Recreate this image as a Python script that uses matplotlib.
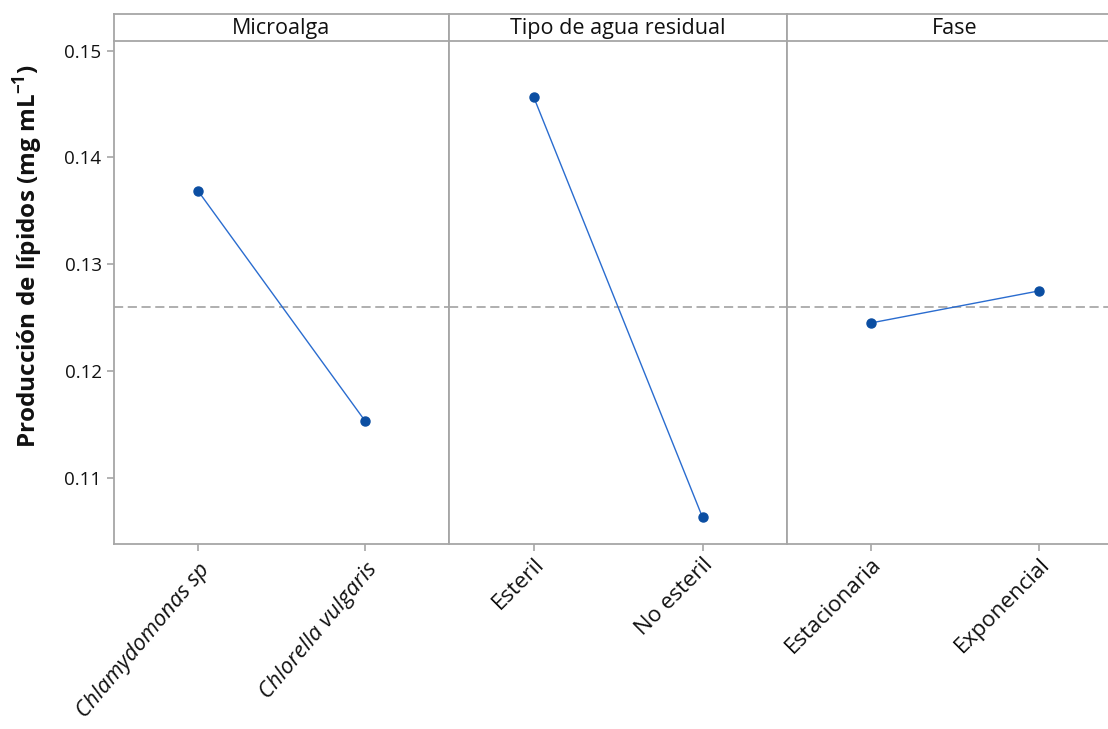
import matplotlib
matplotlib.use("Agg")
import matplotlib.pyplot as plt
from matplotlib.ticker import FixedLocator
from matplotlib.transforms import ScaledTranslation

plt.rcParams['font.family'] = ['Open Sans', 'DejaVu Sans']

# Main-effects data: factor panels, levels and mean lipid production
factors = ["Microalga", "Tipo de agua residual", "Fase"]
levels = [
    ["Chlamydomonas sp", "Chlorella vulgaris"],
    ["Esteril", "No esteril"],
    ["Estacionaria", "Exponencial"],
]
italic_levels = [True, False, False]
means = [
    [0.1369, 0.1153],
    [0.1457, 0.1063],
    [0.1245, 0.1275],
]
grand_mean = 0.1260

yticks = [0.11, 0.12, 0.13, 0.14, 0.15]
ylim = (0.1038, 0.1509)

W, H = 1108, 729
fig = plt.figure(figsize=(W / 100, H / 100), dpi=100)

frame_col = "#a6a6a6"
line_col = "#2a6ccf"
mark_col = "#0b4ea2"
text_col = "#111111"

panel_x = [114, 449, 787, 1123]
top_strip, top_data, bottom_data = 14, 41, 544

for i, (fac, lev, vals) in enumerate(zip(factors, levels, means)):
    x0, x1 = panel_x[i], panel_x[i + 1]
    ax = fig.add_axes([x0 / W, 1 - bottom_data / H, (x1 - x0) / W,
                       (bottom_data - top_data) / H])
    xs = list(range(len(vals)))
    ax.axhline(grand_mean, color="#9a9a9a", lw=1.1, ls=(0, (6, 3)), zorder=1)
    ax.plot(xs, vals, color=line_col, lw=1.0, zorder=2)
    ax.plot(xs, vals, 'o', color=mark_col, ms=6.5, zorder=3)
    ax.set_xlim(-0.5, 1.5)
    ax.set_ylim(*ylim)
    for s in ax.spines.values():
        s.set_color(frame_col)
        s.set_linewidth(1.3)
    ax.spines['top'].set_visible(False)
    ax.set_xticks(xs)
    if italic_levels[i]:
        labels = ax.set_xticklabels(lev, rotation=50, ha='right',
                                    rotation_mode='anchor', fontsize=16,
                                    color=text_col, style='italic')
        shift = ScaledTranslation(-0.2, -0.14, fig.dpi_scale_trans)
        for lab in labels:
            lab.set_transform(lab.get_transform() + shift)
        ax.tick_params(axis='x', length=5, color=frame_col, width=1.2, pad=6)
    else:
        ax.set_xticklabels(lev, rotation=45, ha='right', rotation_mode='anchor',
                           fontsize=16, color=text_col)
        ax.tick_params(axis='x', length=5, color=frame_col, width=1.2, pad=2)
    if i == 0:
        ax.yaxis.set_major_locator(FixedLocator(yticks))
        ax.set_yticklabels([f"{t:.2f}" for t in yticks], fontsize=13.5,
                           color=text_col)
        ax.tick_params(axis='y', length=5, color=frame_col, width=1.2, pad=4)
        ax.set_ylabel("Producción de lípidos (mg mL$^{\\mathregular{-1}}$)",
                      fontsize=17.5, fontweight='bold', color=text_col)
        ax.yaxis.set_label_coords((45 - x0) / (x1 - x0),
                                  (bottom_data - 256) / (bottom_data - top_data))
    else:
        ax.set_yticks([])

    # header strip with factor name
    hx = fig.add_axes([x0 / W, 1 - top_data / H, (x1 - x0) / W,
                       (top_data - top_strip) / H])
    hx.set_xticks([])
    hx.set_yticks([])
    for s in hx.spines.values():
        s.set_color(frame_col)
        s.set_linewidth(1.3)
    hx.text(0.5, 0.45, fac, ha='center', va='center', fontsize=15.5,
            color=text_col, transform=hx.transAxes)

fig.savefig("out.png", dpi=100)
